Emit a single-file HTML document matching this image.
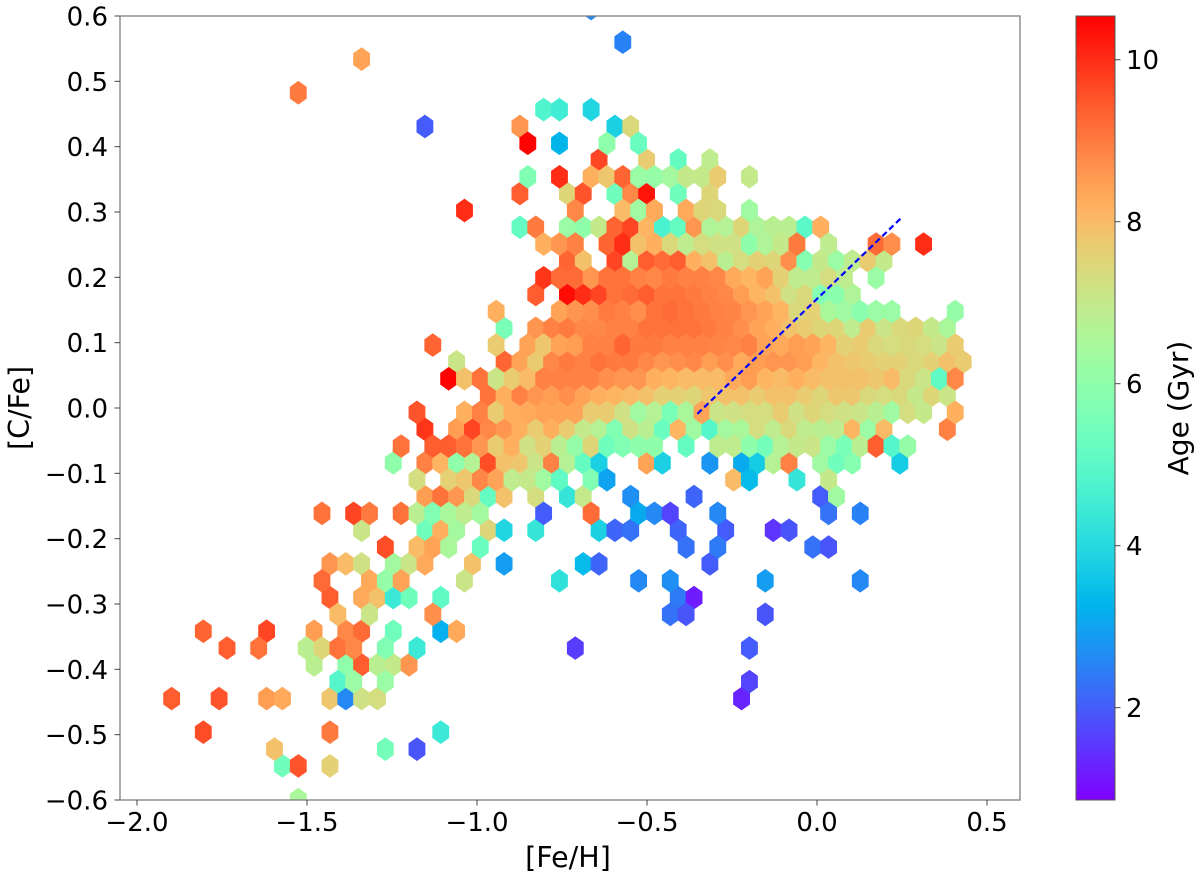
<!DOCTYPE html>
<html lang="en">
<head>
<meta charset="utf-8">
<title>[C/Fe] vs [Fe/H] hexbin coloured by age</title>
<style>
html,body{margin:0;padding:0;background:#fff;width:1200px;height:877px;overflow:hidden}
svg{display:block;filter:blur(0.35px)}
text{font-family:"DejaVu Sans","Liberation Sans",sans-serif;fill:#000}
</style>
</head>
<body>
<svg id="chart" xmlns="http://www.w3.org/2000/svg" width="1200" height="877" viewBox="0 0 1200 877">
  <defs>
    <clipPath id="plot-clip"><rect x="120" y="16" width="900" height="784"></rect></clipPath>
    <linearGradient id="cbar-gradient" x1="0" y1="1" x2="0" y2="0"></linearGradient>
  </defs>
  <g id="hexes" clip-path="url(#plot-clip)"></g>
  <line id="trend" stroke="#0000ff" stroke-width="2.2" stroke-dasharray="6 3.5"></line>
  <rect x="120" y="16" width="900" height="784" fill="none" stroke="#7f7f7f" stroke-width="1.3"></rect>
  <g id="x-ticks"></g>
  <g id="y-ticks"></g>
  <text x="568" y="867" font-size="28.5" text-anchor="middle">[Fe/H]</text>
  <text transform="translate(29,408) rotate(-90)" font-size="28.5" text-anchor="middle">[C/Fe]</text>
  <rect x="1076" y="16" width="39" height="784" fill="url(#cbar-gradient)" stroke="#555" stroke-width="1"></rect>
  <g id="c-ticks"></g>
  <text transform="translate(1188,408) rotate(-90)" font-size="28" text-anchor="middle">Age (Gyr)</text>
</svg>
<script>
const xTicks = [-2.0, -1.5, -1.0, -0.5, 0.0, 0.5];
const yTicks = [-0.6, -0.5, -0.4, -0.3, -0.2, -0.1, 0.0, 0.1, 0.2, 0.3, 0.4, 0.5, 0.6];
const ageTicks = [2, 4, 6, 8, 10];
const trendFeH = [-0.352, 0.248];
const trendCFe = [-0.009, 0.291];
const _ = null;
const binWidthFeH = 0.04656;
/* one entry per hexbin row: [C/Fe] of the row, [Fe/H] of the first bin, mean age (Gyr) per bin */
const rowCFe = [0.6115,0.5599,0.5340,0.4825,0.4567,0.4309,0.4051,0.3796,0.3539,0.3282,0.3023,0.2766,0.2509,0.2250,0.1993,0.1736,0.1477,0.1220,0.0963,0.0706,0.0447,0.0190,-0.0067,-0.0326,-0.0583,-0.0840,-0.1099,-0.1356,-0.1613,-0.1872,-0.2129,-0.2386,-0.2645,-0.2902,-0.3159,-0.3417,-0.3675,-0.3932,-0.4189,-0.4448,-0.4962,-0.5221,-0.5478,-0.5994];
const rowFeStart = [-0.6644,-0.5712,-1.3394,-1.5256,-0.8040,-1.1532,-0.8506,-0.6410,-0.8506,-0.8738,-1.0368,-0.8738,-0.8040,-0.7341,-0.8040,-0.8272,-0.9437,-0.9204,-1.1300,-1.0600,-1.0834,-0.9669,-1.1765,-1.1532,-1.2231,-1.2463,-1.1765,-1.1532,-1.4559,-1.3394,-1.2696,-1.4325,-1.4559,-1.4325,-1.4093,-1.8050,-1.7352,-1.4791,-1.4093,-1.8981,-1.8050,-1.5956,-1.5722,-1.5256];
const rowAges = [
[2.6],
[2.5],
[8.4],
[9.0],
[4.8,4.5,_,3.9],
[2.0,_,_,_,_,_,8.6,_,_,_,_,_,3.8,7.4],
[10.5,_,3.3,_,_,6.0,_,5.3],
[9.7,_,_,7.7,_,5.2,_,6.9],
[5.7,_,10.0,_,8.2,7.8,9.3,6.2,6.1,6.4,7.0,7.0,7.7,_,7.0],
[9.4,_,_,7.5,9.5,_,5.4,8.8,10.3,_,5.4,_,7.5],
[10.0,_,_,_,_,_,_,8.8,_,_,8.0,6.3,8.3,_,8.3,7.5,7.4,_,6.3],
[5.2,9.0,_,6.2,6.0,7.0,9.3,9.7,8.1,4.7,5.2,8.6,6.6,6.7,7.5,6.6,6.8,6.8,5.0,8.2],
[8.2,8.6,8.9,_,9.3,10.0,7.9,8.2,7.4,6.9,7.3,7.2,7.2,6.0,6.6,7.0,9.0,_,6.9,_,_,9.2,8.7,_,10.0],
[9.3,7.9,_,9.7,6.7,9.4,9.2,9.4,8.2,7.9,6.8,7.3,7.6,7.5,8.7,5.8,7.0,6.2,6.9,7.7,7.0],
[9.9,9.2,9.2,8.6,9.1,9.1,8.9,8.8,9.0,8.9,8.9,8.8,8.3,8.1,8.4,7.6,6.9,6.9,7.3,6.9,_,6.2],
[9.4,_,10.4,10.0,9.7,9.1,9.2,9.4,9.1,9.1,9.0,8.9,8.8,8.5,8.1,7.9,7.2,7.4,5.8,5.9,6.6],
[8.2,_,_,_,8.4,8.6,8.7,9.0,8.9,8.7,9.1,9.2,9.1,9.0,8.9,8.85,8.6,8.4,8.1,7.4,7.6,6.5,6.3,5.9,6.2,6.2,_,_,_,6.1],
[5.6,_,8.6,8.9,9.0,8.8,8.8,8.9,8.9,9.1,9.1,9.1,9.1,9.0,8.9,8.7,8.4,8.2,7.9,7.7,7.5,7.5,6.9,7.7,7.1,7.4,7.5,7.0,6.5],
[9.3,_,_,_,7.7,_,8.4,7.8,8.4,8.5,8.9,8.9,9.3,9.0,9.0,8.9,8.9,8.9,8.85,8.8,8.9,8.4,8.3,8.5,8.4,8.1,7.6,7.7,7.4,7.3,7.4,7.3,7.1,7.7],
[7.1,_,_,9.3,8.4,7.7,8.8,9.0,8.9,9.1,9.0,9.0,8.8,8.6,8.7,8.8,8.5,8.7,8.3,8.5,8.6,8.6,8.5,8.1,7.9,7.8,7.7,7.6,7.6,7.4,7.6,7.9,7.7],
[10.5,7.9,9.1,7.1,7.7,8.0,8.9,8.9,8.9,8.9,8.7,8.6,8.6,8.2,8.1,8.0,8.0,8.0,8.3,8.5,8.1,8.0,8.2,8.0,7.9,7.9,7.9,7.8,8.0,7.4,7.1,5.1,8.8],
[9.1,8.2,8.9,8.6,8.5,8.7,8.4,8.2,8.1,8.0,7.9,7.6,7.6,7.5,7.8,7.9,7.9,7.7,7.9,7.9,7.7,7.5,7.8,7.8,7.4,7.3,7.4,7.0,7.5,7.1],
[9.5,_,_,8.2,8.9,7.7,8.2,8.3,8.4,8.4,8.4,7.7,7.7,7.2,6.3,6.7,5.6,6.5,8.4,7.1,7.2,7.3,7.3,7.7,7.2,7.5,7.3,7.2,7.1,6.8,6.3,7.3,7.0,_,8.2],
[9.9,_,8.5,9.7,8.8,8.6,8.2,7.7,8.2,7.7,7.0,6.7,5.7,7.2,6.8,5.3,8.1,6.3,4.9,6.4,6.5,7.3,6.9,7.4,6.9,6.8,6.9,8.1,6.2,8.0,_,_,_,8.9],
[9.1,_,9.4,9.4,9.1,8.6,7.7,8.2,7.2,7.6,6.8,6.1,7.5,5.4,5.7,6.0,6.0,_,5.2,_,6.9,6.9,6.0,5.5,6.7,7.0,7.1,6.2,5.6,6.8,9.4,4.9,6.1],
[6.0,_,8.9,8.1,6.0,6.7,9.6,7.9,7.8,7.1,8.9,6.7,5.2,3.8,_,_,8.4,3.8,_,_,2.8,_,3.1,3.7,6.7,8.9,_,6.3,5.4,5.8,_,_,3.7],
[7.3,_,7.6,7.8,8.8,8.4,6.9,7.0,6.3,5.1,_,5.7,3.0,_,_,_,_,_,_,_,8.0,3.4,_,_,4.3,_,7.0],
[8.5,9.1,8.6,7.4,5.2,7.9,_,7.3,_,4.3,7.0,_,_,2.7,_,_,_,2.1,_,_,_,_,_,_,_,2.0,6.3],
[9.1,_,9.7,9.0,_,9.1,6.8,5.7,6.5,6.9,6.4,_,_,_,2.0,_,_,9.2,_,_,3.1,2.6,1.7,_,_,2.6,_,_,_,_,_,_,2.3,_,2.5],
[7.1,_,_,_,5.4,8.2,6.4,_,7.5,3.9,_,4.3,_,_,_,3.8,2.1,2.3,_,_,2.1,_,_,2.0,_,_,1.5,1.9],
[9.6,_,8.0,8.4,6.5,_,5.3,_,_,_,_,_,_,_,_,_,_,_,_,2.3,_,2.4,_,_,_,_,_,2.3,1.9],
[8.6,8.0,7.2,_,6.4,7.1,8.3,_,_,7.9,_,2.9,_,_,_,_,3.4,2.1,_,_,_,_,_,_,2.0],
[9.2,_,_,8.3,6.1,8.4,_,_,_,7.1,_,_,_,_,_,4.2,_,_,_,_,2.6,_,2.7,_,_,_,_,_,2.9,_,_,_,_,_,2.6],
[9.4,_,8.3,7.9,4.4,5.4,_,5.1,_,_,_,_,_,_,_,_,_,_,_,_,_,_,2.4,1.2],
[8.0,_,7.1,_,_,_,8.7,_,_,_,_,_,_,_,_,_,_,_,_,_,_,2.3,1.9,_,_,_,_,1.9],
[9.3,_,_,_,9.7,_,_,8.5,_,8.8,9.2,_,5.4,_,_,3.2,8.3],
[9.4,_,9.1,_,_,6.8,7.5,9.1,8.8,_,5.7,_,4.4,_,_,_,_,_,_,_,_,_,1.6,_,_,_,_,_,_,_,_,_,_,2.0],
[6.8,_,6.0,9.4,6.8,7.0,8.6],
[4.9,6.2,_,6.2,_,_,_,_,_,_,_,_,_,_,_,_,_,_,_,_,_,_,_,_,_,_,1.7],
[9.4,_,_,9.5,_,_,8.5,8.3,_,_,7.8,2.6,7.2,7.3,_,_,_,_,_,_,_,_,_,_,_,_,_,_,_,_,_,_,_,_,_,_,1.3],
[9.6,_,_,_,_,_,_,_,9.0,_,_,_,_,_,_,4.4],
[7.9,_,_,_,_,_,_,5.5,_,1.9],
[5.4,9.5,_,7.6],
[6.5]
];

const SVG_NS = 'http://www.w3.org/2000/svg';
const plot = {left: 120, right: 1020, top: 16, bottom: 800};
const xDomain = [-2.05, 0.597];
const yDomain = [-0.6, 0.6];
const ageDomain = [0.86, 10.54];

function xScale(v) { return plot.left + (v - xDomain[0]) / (xDomain[1] - xDomain[0]) * (plot.right - plot.left); }
function yScale(v) { return plot.bottom - (v - yDomain[0]) / (yDomain[1] - yDomain[0]) * (plot.bottom - plot.top); }
function ageScale(v) { return plot.bottom - (v - ageDomain[0]) / (ageDomain[1] - ageDomain[0]) * (plot.bottom - plot.top); }

function rainbow(t) {
  t = Math.max(0, Math.min(1, t));
  const r = Math.min(1, Math.abs(2 * t - 0.5));
  const g = Math.sin(Math.PI * t);
  const b = Math.cos(Math.PI * t / 2);
  return 'rgb(' + Math.round(r * 255) + ',' + Math.round(g * 255) + ',' + Math.round(b * 255) + ')';
}
function ageColor(a) { return rainbow((a - ageDomain[0]) / (ageDomain[1] - ageDomain[0])); }

function make(tag, attrs) {
  const node = document.createElementNS(SVG_NS, tag);
  for (const k in attrs) node.setAttribute(k, attrs[k]);
  return node;
}
function label(v, digits) { return v.toFixed(digits).replace('-', '\u2212'); }

/* colorbar gradient */
const grad = document.getElementById('cbar-gradient');
for (let i = 0; i <= 32; i++) {
  grad.appendChild(make('stop', {offset: (i / 32), 'stop-color': rainbow(i / 32)}));
}

/* hexagons: one lattice is painted first, the offset lattice on top */
const hexGroup = document.getElementById('hexes');
const rowSpacing = 0.02576;
const order = rowCFe.map(function (c, i) { return i; });
function lattice(i) { return Math.round((rowCFe[0] - rowCFe[i]) / rowSpacing) % 2 === 0 ? 1 : 0; }
order.sort(function (a, b) { return lattice(a) - lattice(b) || a - b; });
const halfW = Math.abs(xScale(binWidthFeH) - xScale(0)) / 2;
const radius = Math.abs(yScale(0) - yScale(rowSpacing)) * 2 / 3;
order.forEach(function (i) {
  rowAges[i].forEach(function (age, k) {
    if (age === null) return;
    const cx = xScale(rowFeStart[i] + k * binWidthFeH);
    const cy = yScale(rowCFe[i]);
    const pts = [
      [cx, cy - radius], [cx + halfW, cy - radius / 2], [cx + halfW, cy + radius / 2],
      [cx, cy + radius], [cx - halfW, cy + radius / 2], [cx - halfW, cy - radius / 2]
    ].map(function (p) { return p[0].toFixed(2) + ',' + p[1].toFixed(2); }).join(' ');
    const col = ageColor(age);
    const hex = make('polygon', {points: pts, fill: col, stroke: col, 'stroke-width': 1});
    
    
    hexGroup.appendChild(hex);
  });
});

/* trend line */
const trend = document.getElementById('trend');
trend.setAttribute('x1', xScale(trendFeH[0]));
trend.setAttribute('y1', yScale(trendCFe[0]));
trend.setAttribute('x2', xScale(trendFeH[1]));
trend.setAttribute('y2', yScale(trendCFe[1]));

/* x axis */
const xg = document.getElementById('x-ticks');
xTicks.forEach(function (v) {
  const x = xScale(v);
  const tick = make('line', {x1: x, x2: x, y1: plot.bottom, y2: plot.bottom + 5.5, stroke: '#444', 'stroke-width': 1});
  
  
  xg.appendChild(tick);
  const t = make('text', {x: x, y: 831, 'font-size': 26, 'text-anchor': 'middle'});
  
  
  t.textContent = label(v, 1);
  xg.appendChild(t);
});

/* y axis */
const yg = document.getElementById('y-ticks');
yTicks.forEach(function (v) {
  const y = yScale(v);
  const tick = make('line', {x1: plot.left - 5.5, x2: plot.left, y1: y, y2: y, stroke: '#444', 'stroke-width': 1});
  
  
  yg.appendChild(tick);
  const t = make('text', {x: 108, y: y + 9.5, 'font-size': 26, 'text-anchor': 'end'});
  
  
  t.textContent = label(v, 1);
  yg.appendChild(t);
});

/* colorbar axis */
const cg = document.getElementById('c-ticks');
ageTicks.forEach(function (v) {
  const y = ageScale(v);
  const tick = make('line', {x1: 1115, x2: 1120.5, y1: y, y2: y, stroke: '#444', 'stroke-width': 1});
  
  
  cg.appendChild(tick);
  const t = make('text', {x: 1126, y: y + 9.5, 'font-size': 26, 'text-anchor': 'start'});
  
  
  t.textContent = label(v, 0);
  cg.appendChild(t);
});
</script>
</body>
</html>
